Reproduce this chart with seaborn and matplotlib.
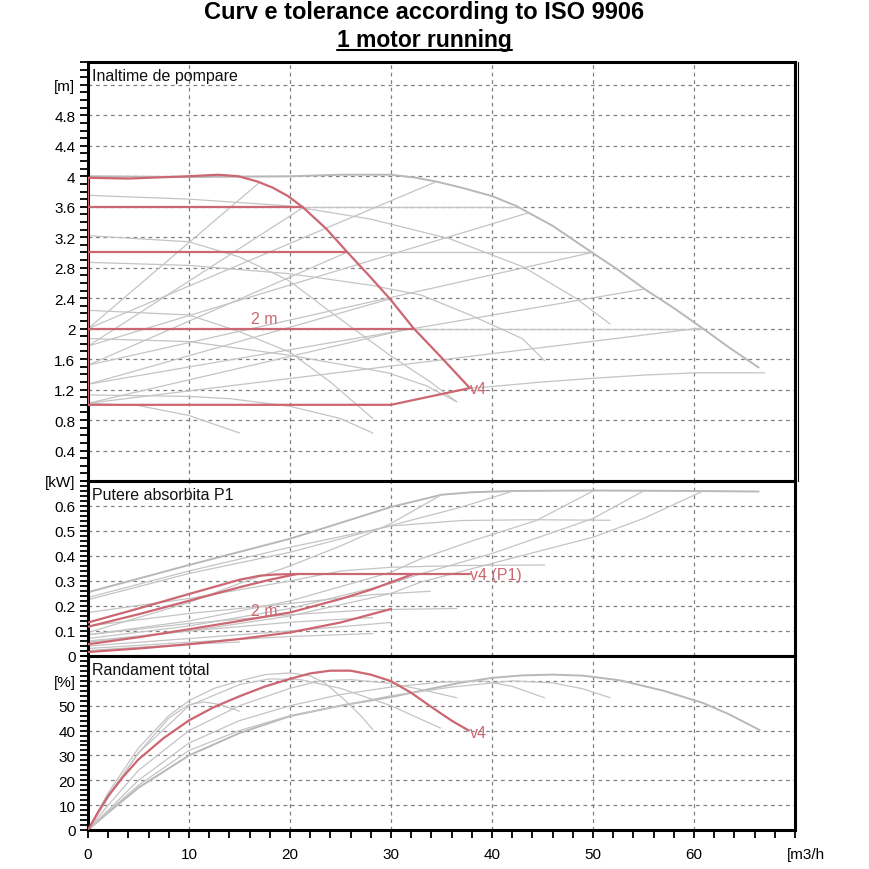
import matplotlib
matplotlib.use("Agg")
import matplotlib.pyplot as plt
import seaborn as sns
from matplotlib.ticker import MultipleLocator, FixedLocator, FixedFormatter
from matplotlib.transforms import ScaledTranslation
from matplotlib.lines import Line2D

# ---------------- data: head (H) panel ----------------
red_max_q = [0, 4, 9.9, 12.9, 14.9, 16.8, 18.3, 19.8, 21.3, 23.6, 25.7, 27.8, 29.9, 32.2, 35, 37.8]
red_max_h = [3.98, 3.97, 4.0, 4.02, 4.0, 3.93, 3.85, 3.74, 3.59, 3.31, 3.0, 2.70, 2.39, 2.01, 1.62, 1.22]
red_h36_q = [0, 21.3]; red_h36_h = [3.6, 3.6]
red_h30_q = [0, 25.6]; red_h30_h = [3.0, 3.0]
red_h20_q = [0, 32.2]; red_h20_h = [2.0, 2.0]
red_min_q = [0, 30, 37.8]; red_min_h = [1.0, 1.0, 1.22]
red_vert_q = [0, 0]; red_vert_h = [1.0, 3.98]

gray_max_q = [0, 10, 20, 25, 30, 32.5, 34.5, 37, 40, 42.4, 46, 49.9, 52.5, 55.1, 58, 60.8, 63.5, 66.4]
gray_max_h = [4.0, 3.99, 4.0, 4.02, 4.02, 3.98, 3.93, 3.85, 3.74, 3.61, 3.35, 3.0, 2.77, 2.52, 2.27, 2.01, 1.75, 1.49]
gray_min_q = [37.8, 39.1, 45, 50.2, 55, 60.1, 67]
gray_min_h = [1.22, 1.23, 1.30, 1.35, 1.39, 1.42, 1.42]
gray_h36_q = [21.3, 42.4]; gray_h36_h = [3.6, 3.6]
gray_h30_q = [25.6, 49.9]; gray_h30_h = [3.0, 3.0]
gray_h20_q = [32.2, 60.8]; gray_h20_h = [2.0, 2.0]

pv_start_h = [2.0, 1.77, 1.52, 1.27, 1.02]
pv_small_end_q = [16.9, 21.3, 25.6, 29.9, 32.2]
pv_small_end_h = [3.91, 3.59, 3.0, 2.39, 2.01]
pv_big_end_q = [34.5, 43.6, 49.9, 55.1, 60.8]
pv_big_end_h = [3.93, 3.52, 3.0, 2.52, 2.01]

d1_q = [0, 10, 20, 27.9, 35.8, 43.1, 48.4, 51.7]
d1_h = [3.75, 3.70, 3.61, 3.44, 3.18, 2.81, 2.39, 2.06]
d2_q = [0, 10, 15, 19.9, 23.8, 29.9, 33.9, 36.5]
d2_h = [3.22, 3.14, 2.94, 2.63, 2.24, 1.65, 1.30, 1.04]
d3_q = [0, 10, 20, 28, 33, 38, 43, 45.2]
d3_h = [2.87, 2.83, 2.72, 2.57, 2.44, 2.17, 1.87, 1.58]
d4_q = [0, 10, 15, 20, 24, 28.2]
d4_h = [2.24, 2.18, 1.96, 1.69, 1.30, 0.82]
d5_q = [0, 10, 20, 29.7, 33.5, 36.5]
d5_h = [1.87, 1.83, 1.65, 1.42, 1.25, 1.04]
d6_q = [0, 10, 14.1, 20, 25, 28.2]
d6_h = [1.13, 1.11, 1.08, 0.98, 0.82, 0.63]
d7_q = [0, 5, 10, 15]
d7_h = [1.02, 0.99, 0.86, 0.63]

# ---------------- data: power (P1) panel ----------------
red_p_max_q = [0, 5, 10, 15, 17, 18.5, 20.7]
red_p_max_v = [0.134, 0.19, 0.248, 0.305, 0.321, 0.326, 0.328]
red_p_36_q = [0, 5, 10, 15, 18, 20.7]
red_p_36_v = [0.117, 0.167, 0.221, 0.275, 0.305, 0.328]
red_p_flat_q = [20.7, 37.8]; red_p_flat_v = [0.328, 0.328]
red_p_2m_q = [0, 5, 10, 15, 20, 25, 28, 30, 32.2]
red_p_2m_v = [0.047, 0.075, 0.107, 0.14, 0.174, 0.228, 0.265, 0.295, 0.328]
red_p_min_q = [0, 5, 10, 15, 20, 25, 30]
red_p_min_v = [0.016, 0.03, 0.047, 0.068, 0.094, 0.134, 0.188]

gp_max_q = [0, 10, 20, 30, 35, 38, 42, 50, 60, 66.4]
gp_max_v = [0.255, 0.364, 0.469, 0.596, 0.645, 0.655, 0.66, 0.662, 0.66, 0.658]
gp1_q = [0, 10, 20, 30, 37, 44, 51.7]; gp1_v = [0.234, 0.34, 0.435, 0.52, 0.542, 0.545, 0.543]
gp2_q = [0, 10, 15, 20, 25, 30, 35]; gp2_v = [0.094, 0.214, 0.29, 0.36, 0.44, 0.53, 0.645]
gp3_q = [0, 10, 20, 30, 37, 42.1]; gp3_v = [0.225, 0.33, 0.415, 0.522, 0.596, 0.66]
gp4_q = [0, 10, 20, 30, 32.9, 38, 44.4, 50]; gp4_v = [0.085, 0.14, 0.22, 0.335, 0.388, 0.46, 0.542, 0.66]
gp5_q = [0, 10, 20, 30, 32.9, 40, 50, 55]; gp5_v = [0.07, 0.12, 0.19, 0.29, 0.328, 0.41, 0.55, 0.66]
gp6_q = [0, 10, 20, 30, 32.9, 42.8, 50, 55, 60.9]; gp6_v = [0.055, 0.10, 0.16, 0.25, 0.295, 0.40, 0.475, 0.55, 0.66]
gp7_q = [0, 10, 20, 25, 30, 37, 45.2]; gp7_v = [0.174, 0.23, 0.30, 0.34, 0.355, 0.362, 0.364]
gp8_q = [0, 10, 20, 28, 33.9]; gp8_v = [0.12, 0.17, 0.21, 0.245, 0.259]
gp9_q = [0, 10, 20, 28, 36.5]; gp9_v = [0.085, 0.13, 0.165, 0.185, 0.19]
gp10_q = [0, 10, 20, 28.2]; gp10_v = [0.06, 0.10, 0.135, 0.154]
gp11_q = [0, 10, 20, 28.2]; gp11_v = [0.03, 0.055, 0.078, 0.09]
gp12_q = [0, 5, 10, 15]; gp12_v = [0.022, 0.035, 0.047, 0.056]
gp13_q = [0, 10, 20, 30]; gp13_v = [0.04, 0.07, 0.10, 0.134]

# ---------------- data: efficiency panel ----------------
red_e_q = [0, 1, 2, 3.5, 5, 7.5, 10, 12.5, 15, 17.5, 20, 22, 24, 26, 28, 30, 32, 34, 36, 37.7]
red_e_v = [0, 7.2, 13.7, 21.5, 28.4, 37, 44.1, 49.5, 53.8, 57.7, 60.8, 63, 64.1, 64.1, 62.5, 59.9, 55.2, 49.5, 44, 40]

ge_big_q = [0, 2, 5, 10, 15, 20, 25, 30, 36.8, 40, 43, 46, 49, 52.7, 57, 60.9, 63.5, 66.5]
ge_big_v = [0, 7, 17, 30, 39, 45.8, 50, 53.5, 59.2, 61.2, 62.2, 62.5, 62.1, 60.2, 56, 51.1, 46.5, 40.2]
ge1_q = [0, 2, 5, 8, 10, 11.5, 13, 15]; ge1_v = [0, 13, 31, 45, 50.5, 51.5, 50.5, 47.8]
ge2_q = [0, 2, 5, 8, 10, 12.5, 15, 17.5, 20, 22, 23.5, 25.5, 27, 28.2]
ge2_v = [0, 15, 33, 46, 52, 57, 60, 62.5, 63.2, 62, 59, 52, 46, 40.4]
ge3_q = [0, 2, 5, 10, 15, 18, 21, 25, 30, 34.9]; ge3_v = [0, 14, 31, 50, 58.5, 60.8, 60.5, 57, 50, 41]
ge4_q = [0, 2, 5, 10, 15, 20, 23, 26, 30, 33, 36.5]; ge4_v = [0, 10, 24, 40, 50, 57, 60, 60.5, 59, 56.5, 53.2]
ge5_q = [0, 2, 5, 10, 15, 20, 25, 30, 35, 39, 42, 45.2]; ge5_v = [0, 8, 20, 35, 44, 50, 54.5, 57.5, 59.5, 60, 57.8, 53.2]
ge6_q = [0, 2, 5, 10, 15, 20, 25, 30, 36, 42, 46, 49, 51.7]; ge6_v = [0, 7.5, 18, 32, 40, 46, 50, 54, 57.5, 60, 59.2, 56.8, 53.2]

# ---------------- axis texts ----------------
h_ticks = [0.4, 0.8, 1.2, 1.6, 2.0, 2.4, 2.8, 3.2, 3.6, 4.0, 4.4, 4.8, 5.2]
h_labels = ["0.4", "0.8", "1.2", "1.6", "2", "2.4", "2.8", "3.2", "3.6", "4", "4.4", "4.8", "[m]"]
p_ticks = [0, 0.1, 0.2, 0.3, 0.4, 0.5, 0.6, 0.7]
p_labels = ["0", "0.1", "0.2", "0.3", "0.4", "0.5", "0.6", "[kW]"]
e_ticks = [0, 10, 20, 30, 40, 50, 60]
e_labels = ["0", "10", "20", "30", "40", "50", "[%]"]
x_ticks = [0, 10, 20, 30, 40, 50, 60, 70]
x_labels = ["0", "10", "20", "30", "40", "50", "60", "[m3/h"]

RED = "#cc6670"
GRAY = "#c4c4c4"

sns.set_theme(style="white")
plt.rcParams["font.family"] = ["Liberation Sans", "DejaVu Sans"]
plt.rcParams["text.color"] = "black"

fig = plt.figure(figsize=(8.7, 8.7), dpi=100)
L, W = 88 / 870, 707 / 870
ax_h = fig.add_axes([L, 1 - 482 / 870, W, 419 / 870])
ax_p = fig.add_axes([L, 1 - 657 / 870, W, 175 / 870])
ax_e = fig.add_axes([L, 1 - 831 / 870, W, 174 / 870])


def draw(ax, q, v, color=GRAY, lw=0.9, z=2):
    sns.lineplot(x=q, y=v, ax=ax, color=color, lw=lw, sort=False,
                 estimator=None, zorder=z, legend=False)


# head panel
draw(ax_h, gray_max_q, gray_max_h, "#b8b8b8", 1.4)
draw(ax_h, gray_min_q, gray_min_h)
for q, h in [(gray_h36_q, gray_h36_h), (gray_h30_q, gray_h30_h), (gray_h20_q, gray_h20_h),
             (d1_q, d1_h), (d2_q, d2_h), (d3_q, d3_h), (d4_q, d4_h),
             (d5_q, d5_h), (d6_q, d6_h), (d7_q, d7_h)]:
    draw(ax_h, q, h)
for i in range(len(pv_start_h)):
    draw(ax_h, [0, pv_small_end_q[i]], [pv_start_h[i], pv_small_end_h[i]])
    draw(ax_h, [0, pv_big_end_q[i]], [pv_start_h[i], pv_big_end_h[i]])
for q, h in [(red_max_q, red_max_h), (red_h36_q, red_h36_h), (red_h30_q, red_h30_h),
             (red_h20_q, red_h20_h), (red_min_q, red_min_h), (red_vert_q, red_vert_h)]:
    draw(ax_h, q, h, RED, 1.6, 3)
ax_h.text(17.5, 2.04, "2 m", color=RED, fontsize=11.5, ha="center", va="bottom")
ax_h.text(37.8, 1.22, "v4", color=RED, fontsize=11.5, ha="left", va="center")

# power panel
draw(ax_p, gp_max_q, gp_max_v, "#b8b8b8", 1.4)
for q, v in [(gp1_q, gp1_v), (gp2_q, gp2_v), (gp3_q, gp3_v), (gp4_q, gp4_v), (gp5_q, gp5_v),
             (gp6_q, gp6_v), (gp7_q, gp7_v), (gp8_q, gp8_v), (gp9_q, gp9_v), (gp10_q, gp10_v),
             (gp11_q, gp11_v), (gp12_q, gp12_v), (gp13_q, gp13_v)]:
    draw(ax_p, q, v)
for q, v in [(red_p_max_q, red_p_max_v), (red_p_36_q, red_p_36_v), (red_p_flat_q, red_p_flat_v),
             (red_p_2m_q, red_p_2m_v), (red_p_min_q, red_p_min_v)]:
    draw(ax_p, q, v, RED, 1.6, 3)
ax_p.text(17.5, 0.181, "2 m", color=RED, fontsize=11.5, ha="center", va="center")
ax_p.text(37.8, 0.326, "v4 (P1)", color=RED, fontsize=11.5, ha="left", va="center")

# efficiency panel
draw(ax_e, ge_big_q, ge_big_v, "#b8b8b8", 1.4)
for q, v in [(ge1_q, ge1_v), (ge2_q, ge2_v), (ge3_q, ge3_v), (ge4_q, ge4_v),
             (ge5_q, ge5_v), (ge6_q, ge6_v)]:
    draw(ax_e, q, v)
draw(ax_e, red_e_q, red_e_v, RED, 1.6, 3)
ax_e.text(37.8, 39.3, "v4", color=RED, fontsize=11.5, ha="left", va="center")

# styling
grid_kw = dict(color="#808080", linestyle=(0, (3, 3)), linewidth=0.9)
specs = [(ax_h, (0, 5.5), h_ticks, h_labels, 0.1, "Inaltime de pompare"),
         (ax_p, (0, 0.7), p_ticks, p_labels, 0.02, "Putere absorbita P1"),
         (ax_e, (0, 70), e_ticks, e_labels, 2, "Randament total")]
for ax, ylim, yt, yl, ymin, title in specs:
    ax.set_xlim(0, 70)
    ax.set_ylim(*ylim)
    ax.set_xlabel("")
    ax.set_ylabel("")
    ax.yaxis.set_major_locator(FixedLocator(yt))
    ax.yaxis.set_major_formatter(FixedFormatter(yl))
    ax.yaxis.set_minor_locator(MultipleLocator(ymin))
    ax.tick_params(axis="y", which="both", left=True, direction="out", length=6,
                   width=1.3, color="black", labelsize=11, pad=3, labelcolor="black")
    ax.set_axisbelow(True)
    ax.grid(True, which="major", **grid_kw)
    for s in ax.spines.values():
        s.set_linewidth(2.2)
        s.set_color("black")
    ax.annotate(title, xy=(0, 1), xycoords="axes fraction", xytext=(3, -4),
                textcoords="offset points", ha="left", va="top", fontsize=11.5, color="#111111")

for ax in (ax_h, ax_p):
    ax.xaxis.set_major_locator(FixedLocator([10, 20, 30, 40, 50, 60]))
    ax.tick_params(axis="x", which="both", bottom=False, labelbottom=False)

ax_e.xaxis.set_major_locator(FixedLocator(x_ticks))
ax_e.xaxis.set_major_formatter(FixedFormatter(x_labels))
ax_e.xaxis.set_minor_locator(MultipleLocator(2))
ax_e.tick_params(axis="x", which="both", bottom=True, direction="out", length=6,
                 width=1.3, color="black", labelsize=11, pad=6, labelcolor="black")
last = ax_e.get_xticklabels()[-1]
last.set_horizontalalignment("left")
last.set_transform(last.get_transform() + ScaledTranslation(-6 / 72, 0, fig.dpi_scale_trans))

# thin outer line at right of top panel
ax_h.add_line(Line2D([1, 1], [0, 1], transform=ax_h.transAxes + ScaledTranslation(2.5 / 72, 0, fig.dpi_scale_trans),
                     color="black", lw=0.8, clip_on=False))

# titles
fig.text(0.488, 1 - 13 / 870, "Curv e tolerance according to ISO 9906", ha="center", va="center",
         fontsize=17, fontweight="bold", color="black")
t2 = fig.text(0.488, 1 - 40 / 870, "1 motor running", ha="center", va="center",
              fontsize=16.5, fontweight="bold", color="black")
fig.canvas.draw()
bb = t2.get_window_extent().transformed(fig.transFigure.inverted())
fig.add_artist(Line2D([bb.x0, bb.x1], [1 - 51 / 870, 1 - 51 / 870], transform=fig.transFigure,
                      color="black", lw=1.5))

fig.savefig("out.png", dpi=100)
